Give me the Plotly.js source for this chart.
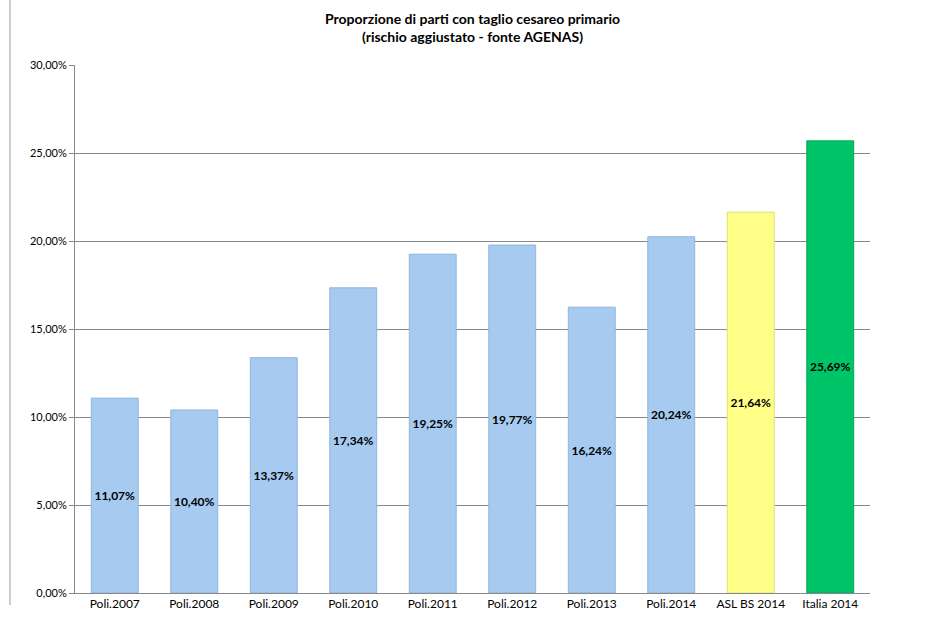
<!DOCTYPE html>
<html>
<head>
<meta charset="utf-8">
<script src="https://cdn.plot.ly/plotly-3.0.1.min.js"></script>
<style>html,body{margin:0;padding:0;background:#fff;}#chart{width:932px;height:620px;}</style>
</head>
<body>
<div id="chart"></div>
<script>
const categories = ["Poli.2007","Poli.2008","Poli.2009","Poli.2010","Poli.2011","Poli.2012","Poli.2013","Poli.2014","ASL BS 2014","Italia 2014"];
const values = [0.1107,0.1040,0.1337,0.1734,0.1925,0.1977,0.1624,0.2024,0.2164,0.2569];
const barColors = ["#A6CAF0","#A6CAF0","#A6CAF0","#A6CAF0","#A6CAF0","#A6CAF0","#A6CAF0","#A6CAF0","#FFFF88","#00C468"];
const lineColors = ["#8FB4DC","#8FB4DC","#8FB4DC","#8FB4DC","#8FB4DC","#8FB4DC","#8FB4DC","#8FB4DC","#E0E070","#00A855"];
const labels = values.map(v => (v*100).toFixed(2).replace('.', ',') + '%');

const trace = {
  type: 'bar',
  x: categories,
  y: values,
  text: labels,
  textposition: 'inside',
  insidetextanchor: 'middle',
  constraintext: 'none',
  textangle: 0,
  textfont: {family: 'Lato, "Open Sans", sans-serif', size: 12, color: '#000', weight: 'bold'},
  marker: {color: barColors, line: {color: lineColors, width: 1}},
  hoverinfo: 'skip'
};

const layout = {
  width: 932, height: 620,
  margin: {l: 75, r: 62, t: 65, b: 27},
  paper_bgcolor: '#fff', plot_bgcolor: '#fff',
  separators: ',.',
  showlegend: false,
  bargap: 0.41,
  title: {
    text: '<b>Proporzione di parti con taglio cesareo primario<br>(rischio aggiustato - fonte AGENAS)</b>',
    font: {family: 'Lato, "Open Sans", sans-serif', size: 14, color: '#000'},
    x: 0.5, xref: 'paper', xanchor: 'center',
    y: 0.962, yref: 'container', yanchor: 'middle'
  },
  xaxis: {
    type: 'category',
    showgrid: false,
    showline: true, linecolor: '#888', linewidth: 1,
    ticks: '', tickfont: {family: 'Lato, "Open Sans", sans-serif', size: 12, color: '#000'},
    fixedrange: true
  },
  yaxis: {
    range: [0, 0.30],
    dtick: 0.05,
    tickformat: '.2%',
    showgrid: true, gridcolor: '#888', gridwidth: 1,
    showline: true, linecolor: '#888', linewidth: 1,
    ticks: 'outside', ticklen: 5, tickcolor: '#888',
    zeroline: false,
    tickfont: {family: 'Lato, "Open Sans", sans-serif', size: 11, color: '#000'},
    fixedrange: true
  },
  shapes: [{
    type: 'line', xref: 'paper', yref: 'paper',
    x0: -0.0818, x1: -0.0818, y0: -0.0227, y1: 1.123,
    line: {color: '#999', width: 1}
  }]
};

Plotly.newPlot('chart', [trace], layout, {displayModeBar: false, staticPlot: true});
</script>
</body>
</html>
